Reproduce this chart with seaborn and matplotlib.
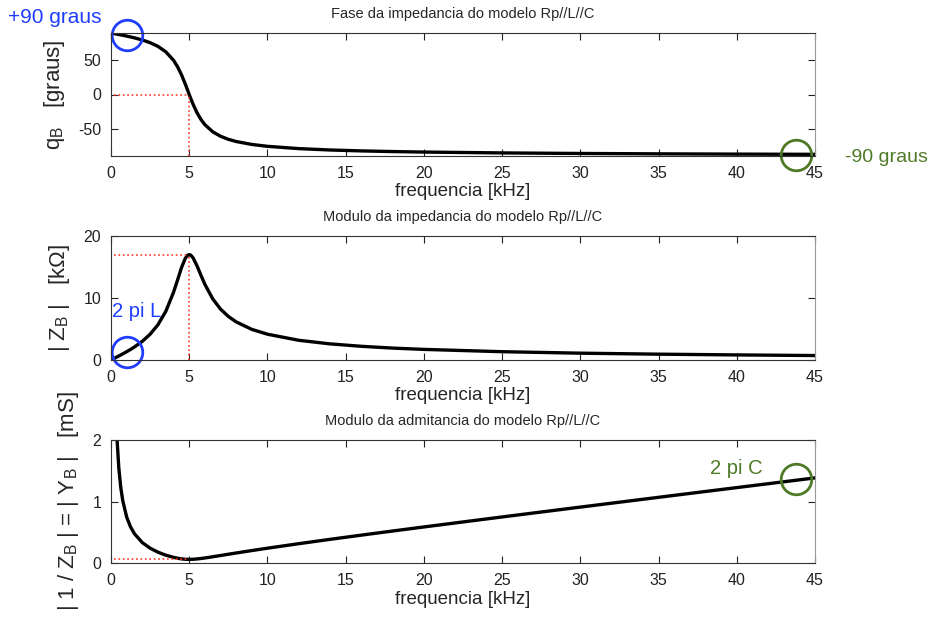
import matplotlib
matplotlib.use("Agg")
import matplotlib.pyplot as plt
import seaborn as sns

# --- dados (Rp // L // C) ---
freq_khz = [0.05, 0.25, 0.375, 0.5, 0.625, 0.75, 1, 1.25, 1.5, 2, 2.5, 3, 3.5, 4,
            4.25, 4.5, 4.75, 4.9, 5, 5.1, 5.25, 5.5, 5.75, 6, 6.5, 7, 7.5, 8, 9, 10,
            12, 14, 16, 18, 20, 25, 30, 35, 40, 45]

fase_graus = [89.78, 88.91, 88.37, 87.81, 87.25, 86.68, 85.49, 84.24, 82.89, 79.79,
              75.85, 70.47, 62.56, 49.94, 40.79, 29.16, 15.17, 6.09, 0.0, -5.99,
              -14.48, -26.79, -36.55, -44.11, -54.53, -61.12, -65.58, -68.79, -73.09,
              -75.85, -79.20, -81.20, -82.54, -83.50, -84.24, -85.49, -86.29, -86.84,
              -87.25, -87.56]

modulo_z_kohm = [0.064, 0.322, 0.485, 0.649, 0.816, 0.985, 1.336, 1.706, 2.104, 3.014,
                 4.157, 5.682, 7.835, 10.94, 12.87, 14.85, 16.41, 16.90, 17.0, 16.91,
                 16.46, 15.18, 13.66, 12.21, 9.87, 8.21, 7.03, 6.15, 4.94, 4.16,
                 3.18, 2.60, 2.21, 1.92, 1.71, 1.34, 1.10, 0.94, 0.82, 0.72]

modulo_y_ms = [15.55, 3.103, 2.063, 1.541, 1.226, 1.015, 0.7487, 0.5861, 0.4753, 0.3318,
               0.2406, 0.1760, 0.1276, 0.0914, 0.0777, 0.0674, 0.0609, 0.0592, 0.0588, 0.0591,
               0.0608, 0.0659, 0.0732, 0.0819, 0.1014, 0.1218, 0.1423, 0.1626, 0.2023, 0.2406,
               0.3140, 0.3844, 0.4529, 0.5200, 0.5861, 0.7488, 0.9090, 1.0680, 1.2261, 1.3836]

f_ressonancia = 5
fase_ressonancia = 0
z_max = 17
y_min = 0.06

titulos = ["Fase da impedancia do modelo Rp//L//C",
           "Modulo da impedancia do modelo Rp//L//C",
           "Modulo da admitancia do modelo Rp//L//C"]
ylabels = ["q$_\\mathregular{B}$   [graus]",
           "| Z$_\\mathregular{B}$ |   [k$\\Omega$]",
           "| 1 / Z$_\\mathregular{B}$ | = | Y$_\\mathregular{B}$ |   [mS]"]

azul = "#1f3dff"
verde = "#4e7a26"
vermelho = "#ff3a2a"

sns.set_style("ticks")
plt.rcParams["font.family"] = ["Liberation Sans", "DejaVu Sans"]
plt.rcParams["mathtext.default"] = "regular"
plt.rcParams["axes.unicode_minus"] = False
plt.rcParams["xtick.direction"] = "in"
plt.rcParams["ytick.direction"] = "in"

fig = plt.figure(figsize=(9.3, 6.27), dpi=100)
esq, larg = 111 / 930, 704 / 930
caixas = [(33, 156), (236, 360), (440, 563)]
eixos = []
for topo, base in caixas:
    ax = fig.add_axes([esq, 1 - base / 627, larg, (base - topo) / 627])
    eixos.append(ax)

series = [fase_graus, modulo_z_kohm, modulo_y_ms]
limites = [(-90, 90), (0, 20), (0, 2)]
yticks = [[-50, 0, 50], [0, 10, 20], [0, 1, 2]]

for ax, serie, lim, yt, titulo, ylab in zip(eixos, series, limites, yticks, titulos, ylabels):
    sns.lineplot(x=freq_khz, y=serie, ax=ax, color="black", linewidth=2.4, sort=False)
    ax.set_xlim(0, 45)
    ax.set_ylim(*lim)
    ax.set_xticks(range(0, 46, 5))
    ax.set_yticks(yt)
    ax.tick_params(top=True, right=True, length=5, width=0.8, labelsize=11.5,
                   colors="#222222", pad=7)
    ax.set_title(titulo, fontsize=10.5, pad=11)
    ax.set_xlabel("frequencia [kHz]", fontsize=13.5, labelpad=2)
    ax.set_ylabel(ylab, fontsize=16, labelpad=8)
    for lado in ["top", "bottom", "left"]:
        ax.spines[lado].set_color("#333333")
    ax.spines["right"].set_color("#999999")

# linhas pontilhadas da ressonancia
ax1, ax2, ax3 = eixos
ax1.plot([0.2, f_ressonancia], [fase_ressonancia, fase_ressonancia], ":", color=vermelho, lw=1.2)
ax1.plot([f_ressonancia, f_ressonancia], [-90, fase_ressonancia], ":", color=vermelho, lw=1.2)
ax2.plot([0.2, f_ressonancia], [z_max, z_max], ":", color=vermelho, lw=1.2)
ax2.plot([f_ressonancia, f_ressonancia], [0, z_max], ":", color=vermelho, lw=1.2)
ax3.plot([0.2, f_ressonancia], [y_min, y_min], ":", color=vermelho, lw=1.2)

# circulos e anotacoes
ax1.plot([1.05], [87], "o", ms=22, mfc="none", mec=azul, mew=2, clip_on=False)
ax1.plot([43.8], [-88.5], "o", ms=22, mfc="none", mec=verde, mew=2, clip_on=False)
ax2.plot([1.05], [1.34], "o", ms=22, mfc="none", mec=azul, mew=2, clip_on=False)
ax3.plot([43.8], [1.36], "o", ms=22, mfc="none", mec=verde, mew=2, clip_on=False)

ax1.text(-6.6, 112, "+90 graus", color=azul, fontsize=15, va="center", ha="left", clip_on=False)
ax1.text(46.9, -91.5, "-90 graus", color=verde, fontsize=14, va="center", ha="left", clip_on=False)
ax2.text(0.05, 7.9, "2 pi L", color=azul, fontsize=14.5, va="center", ha="left")
ax3.text(38.3, 1.53, "2 pi C", color=verde, fontsize=14.5, va="center", ha="left")

fig.savefig("out.png", dpi=100)
